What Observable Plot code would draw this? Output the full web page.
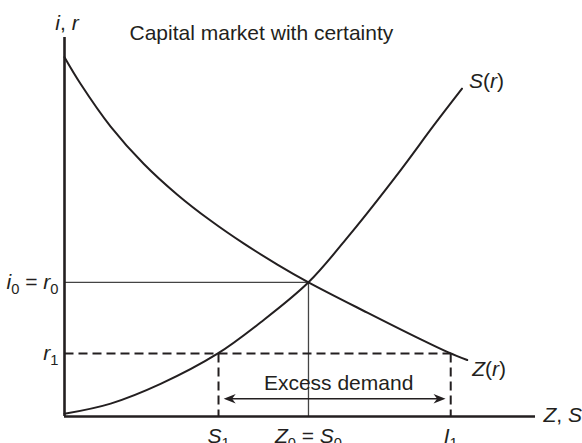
<!DOCTYPE html>
<html><head><meta charset="utf-8">
<script src="https://cdn.jsdelivr.net/npm/d3@7"></script>
<script src="https://cdn.jsdelivr.net/npm/@observablehq/plot@0.6"></script>
<style>body{margin:0;background:#fff}</style>
</head><body><div id="chart"></div>
<script>
// ---- data (arbitrary units 0..100 on both axes) ----
const title = "Capital market with certainty";
const zX = [0, 3.4, 9.8, 16.8, 23.9, 31.0, 38.1, 45.2, 51.8, 64.3, 74.9, 81.5, 85.5];
const zY = [94.8, 87.8, 76.5, 66.7, 58.6, 51.7, 45.6, 40.1, 35.4, 27.4, 20.8, 16.9, 14.9];
const sX = [0, 9.8, 20.4, 32.4, 41.6, 51.8, 60.7, 71.3, 78.4, 84.4];
const sY = [0.7, 3.4, 8.6, 16.5, 24.8, 35.4, 48.2, 64.9, 76.8, 86.5];
const r0 = 35.4, r1 = 16.6;
const S1 = 32.7, Z0 = 51.8, I1 = 82.0;
const arrowY = 4.7, arrowFrom = 33.8, arrowTo = 80.9;
const xTickValues = [S1, Z0, I1];
const xTickLabels = ["*S*_1", "*Z*_0 = *S*_0", "*I*_1"];
const yTickValues = [r0, r1];
const yTickLabels = ["*i*_0 = *r*_0", "*r*_1"];
const curveLabels = ["*S*(*r*)", "*Z*(*r*)"];
const xAxisLabel = "*Z*, *S*";
const yAxisLabel = "*i*, *r*";
const arrowLabel = "Excess demand";

const ink = "#231f20";
const FS = 21;

const zPts = zX.map((x, i) => ({x, y: zY[i]}));
const sPts = sX.map((x, i) => ({x, y: sY[i]}));
const dashed = [
  {x1: 0, y1: r1, x2: I1, y2: r1},
  {x1: S1, y1: r1, x2: S1, y2: 0},
  {x1: I1, y1: r1, x2: I1, y2: 0}
];
const solid = [
  {x1: 0, y1: r0, x2: Z0, y2: r0},
  {x1: Z0, y1: r0, x2: Z0, y2: 0}
];
const headRight = {draw(ctx, size) { const r = Math.sqrt(size / Math.PI);
  ctx.moveTo(0, 0); ctx.lineTo(-2 * r, -0.8 * r); ctx.lineTo(-1.4 * r, 0); ctx.lineTo(-2 * r, 0.8 * r); ctx.closePath(); }};
const headLeft = {draw(ctx, size) { const r = Math.sqrt(size / Math.PI);
  ctx.moveTo(0, 0); ctx.lineTo(2 * r, -0.8 * r); ctx.lineTo(1.4 * r, 0); ctx.lineTo(2 * r, 0.8 * r); ctx.closePath(); }};

const xTicks = xTickValues.map((x, i) => ({x, label: xTickLabels[i]}));
const yTicks = yTickValues.map((y, i) => ({y, label: yTickLabels[i]}));

const chart = Plot.plot({
  width: 582, height: 443,
  marginLeft: 64, marginRight: 47, marginTop: 37, marginBottom: 27,
  x: {domain: [0, 100], axis: null},
  y: {domain: [0, 100], axis: null},
  style: {fontFamily: "'Liberation Sans', Arial, Helvetica, sans-serif", background: "#fff", color: ink, overflow: "visible"},
  marks: [
    Plot.link(solid, {x1: "x1", y1: "y1", x2: "x2", y2: "y2", stroke: "#444", strokeWidth: 1.3}),
    Plot.link(dashed, {x1: "x1", y1: "y1", x2: "x2", y2: "y2", stroke: ink, strokeWidth: 2, strokeDasharray: "9,5"}),
    Plot.line(zPts, {x: "x", y: "y", curve: "catmull-rom", stroke: ink, strokeWidth: 2}),
    Plot.line(sPts, {x: "x", y: "y", curve: "catmull-rom", stroke: ink, strokeWidth: 2}),
    Plot.ruleX([0], {stroke: ink, strokeWidth: 2.6}),
    Plot.ruleY([0], {stroke: ink, strokeWidth: 2.6}),
    Plot.link([{x1: arrowFrom + 1.5, x2: arrowTo - 1.5, y: arrowY}], {x1: "x1", x2: "x2", y1: "y", y2: "y", stroke: ink, strokeWidth: 1.5}),
    Plot.dot([{x: arrowTo, y: arrowY}], {x: "x", y: "y", r: 6, symbol: headRight, fill: ink, stroke: "none"}),
    Plot.dot([{x: arrowFrom, y: arrowY}], {x: "x", y: "y", r: 6, symbol: headLeft, fill: ink, stroke: "none"}),
    Plot.text([arrowLabel], {x: (arrowFrom + arrowTo) / 2, y: arrowY, dx: 4, dy: -15, fontSize: FS, fill: ink}),
    Plot.text([title], {frameAnchor: "top-left", textAnchor: "start", dx: 65, dy: -12, fontSize: FS, fill: ink}),
    Plot.text([yAxisLabel], {x: 0, y: 100, dx: 2.5, dy: -14, fontSize: FS, fill: ink}),
    Plot.text([xAxisLabel], {x: 100, y: 0, dx: 8, dy: -1.5, textAnchor: "start", fontSize: FS, fill: ink}),
    Plot.text([curveLabels[0]], {x: sX[sX.length - 1], y: sY[sY.length - 1], dx: 7, dy: -7, textAnchor: "start", fontSize: FS, fill: ink}),
    Plot.text([curveLabels[1]], {x: zX[zX.length - 1], y: zY[zY.length - 1], dx: 5, dy: 9, textAnchor: "start", fontSize: FS, fill: ink}),
    Plot.text(yTicks, {x: 0, y: "y", text: "label", dx: -6, textAnchor: "end", fontSize: FS, fill: ink}),
    Plot.text(xTicks, {x: "x", y: 0, text: "label", dy: 12, lineAnchor: "top", fontSize: FS, fill: ink})
  ]
});

// rich text: *...* = italic, _c = subscript
const NS = "http://www.w3.org/2000/svg";
chart.querySelectorAll("text").forEach(t => {
  const s = t.textContent;
  if (!/[*_]/.test(s)) return;
  t.textContent = "";
  let italic = false, buf = "", pendingDy = 0;
  const add = (txt, opts = {}) => {
    const ts = document.createElementNS(NS, "tspan");
    ts.textContent = txt;
    if (opts.italic) ts.setAttribute("font-style", "italic");
    if (opts.sub) ts.setAttribute("font-size", "70%");
    const dy = (opts.sub ? 5 : 0) + pendingDy;
    if (dy) ts.setAttribute("dy", String(dy));
    pendingDy = opts.sub ? -5 : 0;
    t.appendChild(ts);
  };
  const flush = () => { if (buf) { add(buf, {italic}); buf = ""; } };
  for (let i = 0; i < s.length; i++) {
    const c = s[i];
    if (c === "*") { flush(); italic = !italic; continue; }
    if (c === "_") { flush(); add(s[++i], {sub: true}); continue; }
    buf += c;
  }
  flush();
});

document.getElementById("chart").appendChild(chart);
</script>
</body></html>
